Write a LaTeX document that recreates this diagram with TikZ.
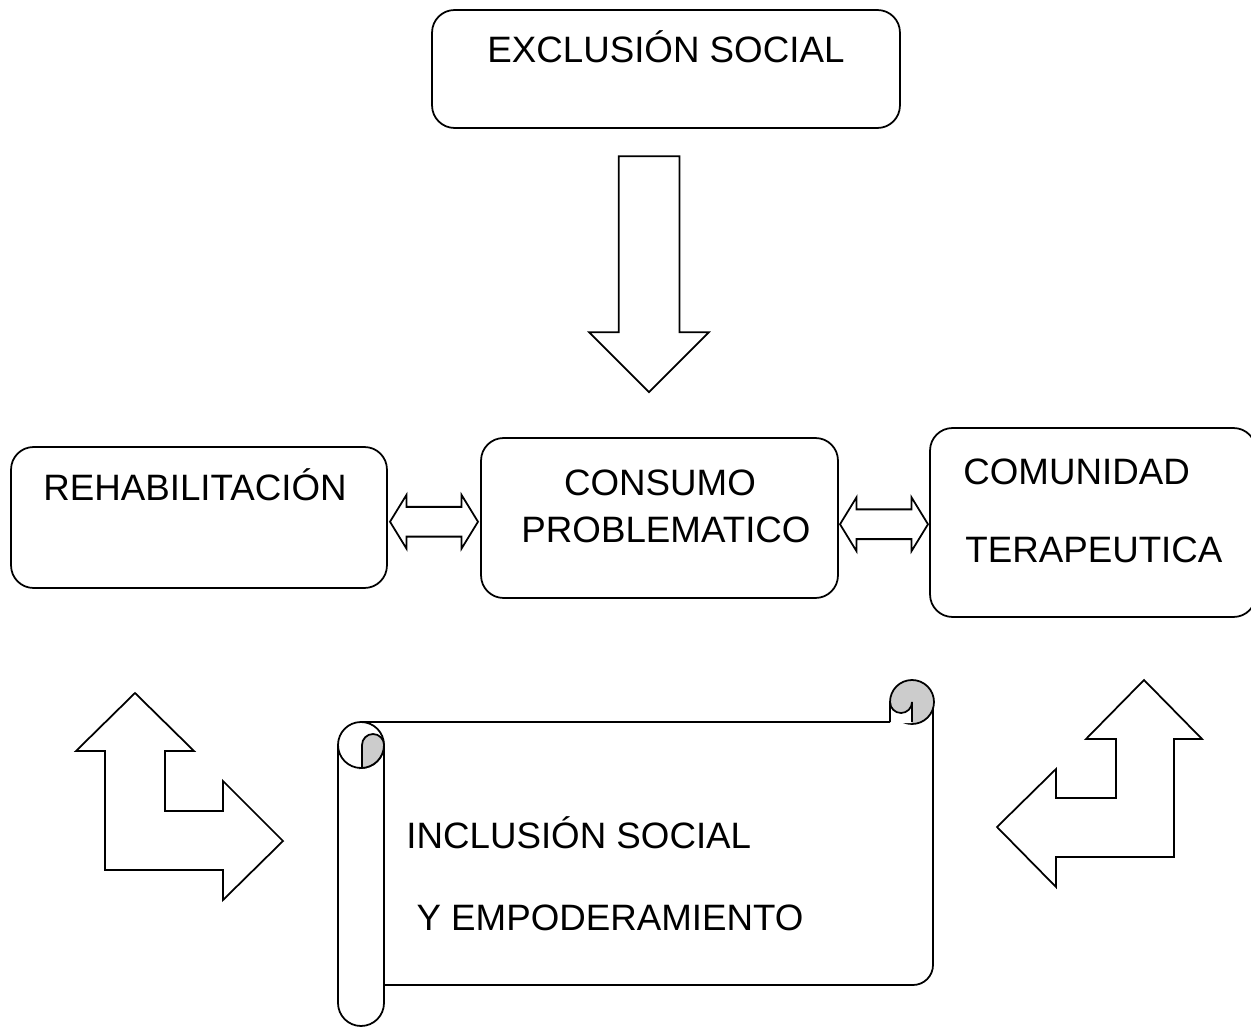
\documentclass[tikz,border=0pt]{standalone}
\usepackage{fontspec}
\setmainfont{Liberation Sans}
\usetikzlibrary{shapes.arrows,calc}
\tikzset{
box/.style={
	draw, line width=1pt, rounded corners=0.45cm},
txt/.style={
	font=\fontsize{20.9}{25}\selectfont, inner sep=0pt, anchor=base west},
downarrow/.style={
	draw, line width=1pt, single arrow, shape border rotate=270,
	inner sep=0.59cm, single arrow head extend=0.59cm,
	minimum height=4.72cm},
linkarrow/.style={
	draw, line width=1pt, double arrow, inner sep=0.28cm,
	double arrow head extend=0.24cm, double arrow tip angle=117,
	minimum height=1.76cm},
bent/.style={draw, line width=1pt},
roll/.style={draw, line width=1pt, fill=black!20}
}

\begin{document}
\begin{tikzpicture}[x=0.02cm, y=-0.02cm]
	\useasboundingbox (0,0) rectangle (1251,1027);
	% boxes
	\node[box, minimum width=9.36cm, minimum height=2.36cm] (excl) at (666,69) {};
	\node[box, minimum width=7.52cm, minimum height=2.82cm] (rehab) at (199,517.5) {};
	\node[box, minimum width=7.14cm, minimum height=3.2cm] (consumo) at (659.5,518) {};
	\node[box, minimum width=6.52cm, minimum height=3.78cm] (comunidad) at (1093,522.5) {};
	\node[txt] (excl text) at (487,63) {EXCLUSIÓN SOCIAL};
	\node[txt] (rehab text) at (43,500) {REHABILITACIÓN};
	\node[txt, anchor=base] (consumo text) at (660,495) {CONSUMO};
	\node[txt, anchor=base] (problem text) at (666,542) {PROBLEMATICO};
	\node[txt] (comunidad text) at (963,484) {COMUNIDAD};
	\node[txt] (terapeutica text) at (965,562) {TERAPEUTICA};
	% block arrows
	\node[downarrow] (down) at (649,259) {};
	\node[linkarrow, yshift=-0.08cm] (left link) at ($(rehab.east)!0.5!(consumo.west)$) {};
	\node[linkarrow, yshift=-0.08cm] (right link) at ($(consumo.east)!0.5!(comunidad.west)$) {};
	\draw[bent] (105,870) -- (105,751) -- (76,751) -- (135,693) -- (194,751) -- (165,751)
		-- (165,811) -- (223,811) -- (223,781) -- (283,841) -- (223,900) -- (223,870) -- cycle;
	\draw[bent] (1174,857) -- (1174,739) -- (1202,739) -- (1144,680) -- (1086,739) -- (1116,739)
		-- (1116,798) -- (1056,798) -- (1056,769) -- (997,827) -- (1056,887) -- (1056,857) -- cycle;
	% scroll
	\draw[line width=1pt] (361,722) -- (890,722);
	\draw[line width=1pt] (384,985) -- (913,985) arc[start angle=90, end angle=0, radius=20] -- (933,702);
	\draw[line width=1pt] (361,745) circle[radius=23];
	\draw[line width=1pt] (338,745) -- (338,1003) arc[start angle=180, end angle=0, radius=23] -- (384,745);
	\draw[roll] (362,767) -- (362,745) arc[start angle=180, end angle=360, radius=11]
		arc[start angle=0, end angle=90, radius=23] -- cycle;
	\draw[roll] (912,702) circle[radius=22];
	\fill[white] (890,723) -- (890,702) arc[start angle=180, end angle=0, radius=11] -- (912,723) -- cycle;
	\draw[line width=1pt] (890,722) -- (890,702) arc[start angle=180, end angle=0, radius=11] -- (912,722);
	\node[txt] (inclusion text) at (406,848) {INCLUSIÓN SOCIAL};
	\node[txt] (empoder text) at (406,930) {\ Y EMPODERAMIENTO};
\end{tikzpicture}
\end{document}
